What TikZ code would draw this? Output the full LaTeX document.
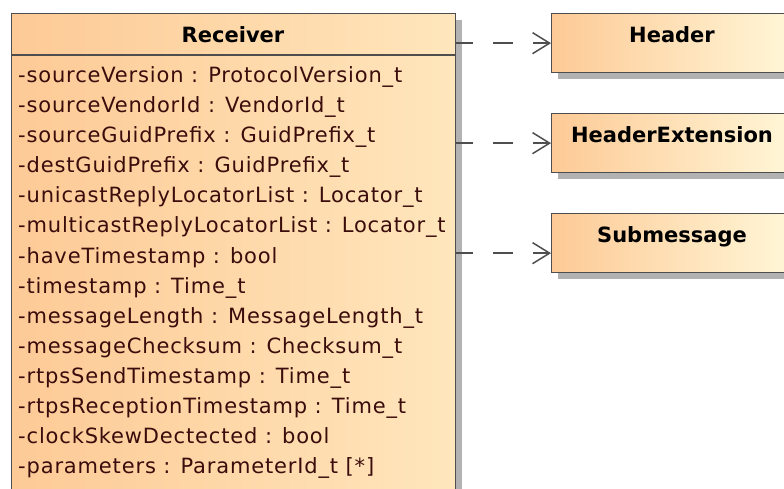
\documentclass[tikz,border=0pt]{standalone}
\usepackage{fontspec}
\setmainfont{DejaVu Sans}
\newfontfamily\attrfont[LetterSpace=4]{DejaVu Sans}
\usetikzlibrary{arrows.meta,shadows}
\definecolor{attr}{HTML}{3A0C0C}
\definecolor{edgec}{HTML}{4E4E4E}
\definecolor{shadowc}{HTML}{B2B2B2}
\definecolor{fillL}{HTML}{FDCA96}
\definecolor{fillR}{HTML}{FFF7D8}
\definecolor{fillM}{HTML}{FFE6BC}
\tikzset{
  classbox/.style={draw=edgec, line width=1.3pt, rectangle, inner sep=0pt, anchor=north west,
    drop shadow={shadow xshift=6pt, shadow yshift=-6pt, fill=shadowc, opacity=1}},
  smallbox/.style={classbox, left color=fillL, right color=fillR, minimum width=242pt, minimum height=59pt},
  bigbox/.style={classbox, left color=fillL, right color=fillM, minimum width=444pt, minimum height=500pt},
  titletext/.style={anchor=base, font=\bfseries\fontsize{21}{25}\selectfont, text=black, inner sep=0pt},
  attrtext/.style={anchor=base west, font=\attrfont\fontsize{21}{25}\selectfont, text=attr, inner sep=0pt},
  dep/.style={draw=edgec, line width=1.5pt, dash pattern=on 20pt off 20pt, dash phase=3pt,
    -{Straight Barb[length=17pt,width=21pt,line width=1.5pt]}},
}
\begin{document}
\begin{tikzpicture}[x=1pt,y=-1pt]
\useasboundingbox (0,0) rectangle (784,489);
\clip (0,0) rectangle (784,489);
\fill[white] (0,0) rectangle (784,489);
% boxes
\node[bigbox] (recv) at (11,13) {};
\node[smallbox] (hdr) at (551,13) {};
\node[smallbox] (hext) at (551,113) {};
\node[smallbox] (sub) at (551,213) {};
% separator under title
\draw[edgec, line width=1.3pt] ([yshift=-42pt]recv.north west) -- ([yshift=-42pt]recv.north east);
% titles
\node[titletext] (recvT) at (233,42.5) {Receiver};
\node[titletext] (hdrT) at (672,42.5) {Header};
\node[titletext] (hextT) at (672,142.5) {HeaderExtension};
\node[titletext] (subT) at (672,242.5) {Submessage};
% attributes
\node[attrtext] (a1) at (18,83) {-sourceVersion : ProtocolVersion\_t};
\node[attrtext] (a2) at (18,113) {-sourceVendorId : VendorId\_t};
\node[attrtext] (a3) at (18,143) {-sourceGuidPrefix : GuidPrefix\_t};
\node[attrtext] (a4) at (18,173) {-destGuidPrefix : GuidPrefix\_t};
\node[attrtext] (a5) at (18,203) {-unicastReplyLocatorList : Locator\_t};
\node[attrtext] (a6) at (18,233) {-multicastReplyLocatorList : Locator\_t};
\node[attrtext] (a7) at (18,263) {-haveTimestamp : bool};
\node[attrtext] (a8) at (18,293) {-timestamp : Time\_t};
\node[attrtext] (a9) at (18,323) {-messageLength : MessageLength\_t};
\node[attrtext] (a10) at (18,353) {-messageChecksum : Checksum\_t};
\node[attrtext] (a11) at (18,383) {-rtpsSendTimestamp : Time\_t};
\node[attrtext] (a12) at (18,413) {-rtpsReceptionTimestamp : Time\_t};
\node[attrtext] (a13) at (18,443) {-clockSkewDectected : bool};
\node[attrtext] (a14) at (18,473) {-parameters : ParameterId\_t [*]};
% dependencies
\coordinate (hdrIn) at (hdr.west);
\coordinate (hextIn) at (hext.west);
\coordinate (subIn) at ([yshift=-10pt]sub.west);
\draw[dep] (recv.east |- hdrIn) -- (hdrIn);
\draw[dep] (recv.east |- hextIn) -- (hextIn);
\draw[dep] (recv.east |- subIn) -- (subIn);
\end{tikzpicture}
\end{document}
